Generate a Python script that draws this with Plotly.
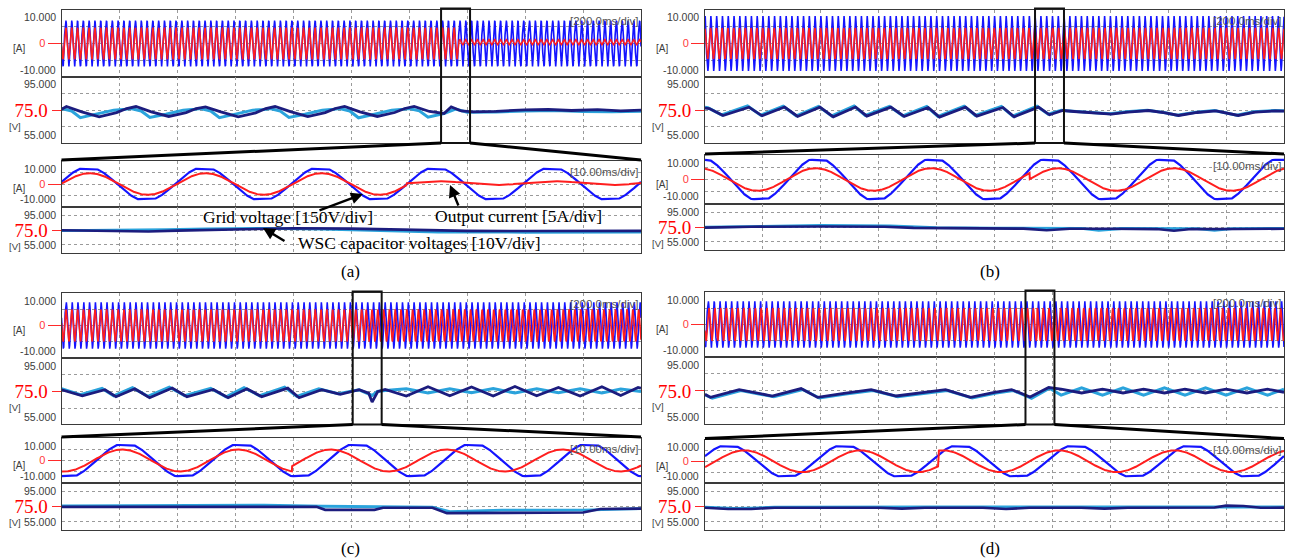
import numpy as np
import plotly.graph_objects as go

W, H = 1290, 558

# ------------------------------------------------------------------ data
PANELS = ["a", "b", "c", "d"]
PANEL_LABELS = ["(a)", "(b)", "(c)", "(d)"]
OVERVIEW_SPAN = 2000.0      # ms, 200 ms/div x 10
ZOOM_SPAN = 100.0           # ms, 10 ms/div x 10
GRID_FREQ = 50.0            # Hz
ZOOM_START = {"a": 1310, "b": 1140, "c": 1005, "d": 1107}   # ms in the overview record

# grid voltage (blue) : amplitude [div units], time of a crest inside zoom window [ms]
GRID_AMP = {"a": 6.6, "b": 8.0, "c": 6.9, "d": 6.9}
GRID_PEAK = {"a": 4.6, "b": -0.6, "c": 11.0, "d": 4.0}
GRID_FLAT = 1.1             # flat-topped grid voltage
# output current (red) : before / after the event, times relative to zoom window [ms]
CUR_AMP_BEFORE = {"a": 4.7, "b": 4.6, "c": 4.9, "d": 5.0}
CUR_PEAK_BEFORE = {"a": 4.9, "b": -0.9, "c": 10.5, "d": 6.8}
CUR_SWITCH = {"a": 59.5, "b": 56.1, "c": 39.8, "d": 40.3}
CUR_AMP_AFTER = {"a": 0.8, "b": 4.6, "c": 4.9, "d": 5.0}
CUR_PEAK_AFTER = {"a": 4.9, "b": 61.0, "c": 46.5, "d": 1.1}
CUR_OFFSET_AFTER = {"a": 0.4, "b": 0.0, "c": 0.0, "d": 0.0}

# WSC capacitor voltages, overview (ms, V)
CAP1_T = {
    "a": [0, 17, 70, 130, 190, 225, 257, 310, 370, 430, 465, 497, 550, 610, 670, 705, 737, 790, 850, 910,
          945, 977, 1030, 1090, 1150, 1185, 1217, 1270, 1320, 1345, 1380, 1420, 1500, 1600, 1680, 1760, 1850, 1930, 2000],
    "b": [0, 15, 62, 152, 197, 275, 320, 397, 443, 520, 559, 642, 688, 771, 810, 900, 939, 1029, 1068, 1152,
          1190, 1236, 1275, 1330, 1404, 1460, 1533, 1590, 1636, 1700, 1765, 1842, 1900, 1971, 2000],
    "c": [0, 72, 150, 188, 253, 304, 382, 433, 524, 575, 640, 691, 781, 820, 898, 962, 1027, 1060, 1072, 1091,
          1117, 1190, 1265, 1340, 1415, 1490, 1565, 1640, 1715, 1790, 1865, 1930, 1990, 2000],
    "d": [0, 19, 118, 232, 332, 389, 480, 574, 660, 750, 831, 917, 1000, 1059, 1123, 1187, 1230, 1301, 1373, 1444,
          1515, 1587, 1658, 1729, 1800, 1872, 1943, 2000],
}
CAP1_V = {
    "a": [75.5, 77.2, 74.0, 71.0, 73.5, 76.0, 77.2, 74.0, 71.2, 73.5, 76.0, 77.0, 74.0, 71.0, 73.4, 76.0, 77.2, 74.1, 71.1, 73.5,
          76.0, 77.3, 74.0, 71.2, 73.6, 76.0, 77.3, 74.2, 73.0, 77.0, 74.5, 74.0, 74.3, 75.2, 75.4, 74.8, 75.3, 74.6, 75.0],
    "b": [76.2, 76.0, 71.8, 76.8, 71.6, 76.9, 71.2, 76.8, 71.0, 76.9, 71.4, 76.8, 71.2, 76.6, 70.8, 76.8, 71.4, 76.6, 71.0, 76.8,
          72.2, 74.8, 74.2, 73.6, 72.6, 73.8, 74.8, 73.4, 71.8, 73.6, 74.6, 71.8, 73.8, 74.6, 74.4],
    "c": [76.0, 72.4, 76.0, 71.8, 76.6, 71.2, 77.0, 71.8, 76.2, 71.2, 76.6, 71.8, 77.0, 71.2, 76.0, 73.2, 76.0, 74.0, 68.6, 74.8,
          76.2, 72.2, 77.8, 72.4, 77.6, 72.2, 78.0, 72.4, 77.4, 72.2, 77.8, 72.6, 77.4, 77.0],
    "d": [73.0, 71.2, 75.8, 72.0, 76.4, 71.2, 73.6, 75.8, 72.0, 74.0, 75.8, 71.2, 74.2, 75.8, 71.4, 77.0, 76.0, 73.8, 76.0, 73.8,
          76.0, 73.8, 76.0, 73.8, 76.0, 73.8, 76.0, 74.2],
}
CAP2_T = {
    "a": [0, 35, 65, 120, 180, 220, 240, 275, 305, 360, 420, 460, 480, 515, 545, 600, 660, 700, 720, 755,
          785, 840, 900, 940, 960, 995, 1025, 1080, 1140, 1180, 1200, 1235, 1265, 1320, 1360, 1400, 1500, 1600, 1700, 1800,
          1900, 2000],
    "b": [0, 10, 57, 147, 192, 270, 315, 392, 438, 515, 554, 637, 683, 766, 805, 895, 934, 1024, 1063, 1147,
          1185, 1231, 1270, 1325, 1399, 1455, 1528, 1585, 1631, 1695, 1760, 1837, 1895, 1966, 2000],
    "c": [0, 65, 140, 180, 245, 298, 372, 425, 515, 568, 630, 684, 770, 812, 888, 955, 1027, 1072, 1090, 1117,
          1190, 1265, 1340, 1415, 1490, 1565, 1640, 1715, 1790, 1865, 1930, 2000],
    "d": [0, 25, 124, 238, 338, 395, 486, 580, 666, 756, 837, 923, 1006, 1065, 1128, 1190, 1230, 1301, 1373, 1444,
          1515, 1587, 1658, 1729, 1800, 1872, 1943, 2000],
}
CAP2_V = {
    "a": [76.0, 74.5, 70.5, 72.5, 75.0, 75.5, 76.0, 74.5, 70.6, 72.5, 75.0, 75.5, 76.0, 74.5, 70.5, 72.6, 75.0, 75.4, 76.0, 74.4,
          70.6, 72.5, 75.0, 75.5, 76.0, 74.5, 70.4, 72.5, 75.0, 75.5, 76.0, 74.6, 70.8, 73.0, 75.6, 73.8, 73.9, 74.5, 74.8, 74.2,
          74.0, 74.4],
    "b": [76.8, 76.5, 72.2, 77.5, 72.0, 77.4, 71.6, 77.3, 71.5, 77.5, 71.8, 77.3, 71.6, 77.2, 71.2, 77.4, 71.8, 77.2, 71.4, 77.4,
          72.6, 75.0, 74.4, 73.8, 72.8, 74.0, 75.0, 73.6, 72.0, 73.8, 74.8, 72.0, 74.0, 74.8, 74.6],
    "c": [76.6, 73.0, 76.8, 72.4, 77.2, 72.0, 77.6, 72.4, 76.8, 71.8, 77.2, 72.4, 77.6, 72.0, 76.6, 73.6, 76.0, 72.6, 75.0, 75.6,
          76.6, 74.0, 76.6, 74.2, 76.8, 74.0, 76.6, 74.2, 76.6, 74.0, 76.4, 75.0],
    "d": [72.6, 70.8, 75.2, 71.6, 75.8, 70.8, 73.2, 75.2, 71.6, 73.6, 75.2, 70.8, 73.8, 75.2, 70.6, 76.6, 72.5, 76.8, 72.5, 76.8,
          72.5, 76.8, 72.5, 76.8, 72.5, 76.8, 72.5, 76.0],
}
# WSC capacitor voltages, zoom window (ms, V)
CAP1Z_T = {
    "a": [0, 10, 15, 20, 30, 40, 50, 60, 70, 80, 90, 100],
    "b": [0, 8, 20, 31, 36, 40, 55, 59, 63, 70, 78, 81, 84, 92, 100],
    "c": [0, 44, 45.5, 54, 55.5, 64, 66.5, 76, 80, 90, 93, 100],
    "d": [0, 4, 8, 12, 30, 34, 38, 48, 52, 56, 65, 69, 73, 88, 90, 93, 96, 100],
}
CAP1Z_V = {
    "a": [74.8, 74.6, 74.0, 74.6, 75.4, 76.2, 75.9, 74.9, 74.4, 74.3, 74.2, 74.4],
    "b": [74.6, 75.2, 75.3, 75.2, 74.4, 74.2, 73.9, 72.8, 73.8, 73.8, 73.6, 72.5, 73.6, 73.7, 73.8],
    "c": [74.6, 74.6, 72.6, 72.6, 74.0, 74.0, 70.4, 70.4, 70.8, 70.8, 73.2, 73.4],
    "d": [74.0, 73.2, 73.2, 74.0, 74.0, 73.4, 74.0, 74.0, 73.2, 74.0, 74.0, 73.4, 74.0, 74.2, 75.4, 75.2, 74.0, 74.1],
}
CAP2Z_T = {
    "a": [0, 10, 18, 25, 35, 45, 55, 65, 80, 100],
    "b": [0, 10, 20, 32, 40, 50, 65, 68, 72, 85, 88, 91, 100],
    "c": [0, 20, 35, 45, 60, 64, 67, 76, 90, 94, 100],
    "d": [0, 5, 8, 12, 40, 60, 80, 100],
}
CAP2Z_V = {
    "a": [74.6, 74.8, 75.2, 75.8, 76.1, 75.6, 74.6, 73.6, 73.5, 73.6],
    "b": [74.9, 75.6, 76.0, 75.8, 74.6, 74.2, 74.0, 72.8, 74.0, 73.9, 72.8, 73.9, 74.0],
    "c": [75.2, 75.4, 75.8, 75.0, 74.6, 74.4, 71.4, 72.4, 72.4, 73.0, 73.4],
    "d": [74.4, 73.6, 73.8, 74.4, 74.5, 74.4, 74.6, 74.5],
}

CUR_EDGE_LABELS = ["10.000", "-10.000"]
CAP_EDGE_LABELS = ["95.000", "55.000"]
CUR_TICK = ([0], ["0"])
CAP_TICK = ([75], ["75.0"])
UNIT_LABELS = ["[A]", "[V]"]
SCALE_LABELS = ["[200.0ms/div]", "[10.00ms/div]"]
NOTE_TEXTS = ["Grid voltage [150V/div]", "Output current [5A/div]", "WSC capacitor voltages [10V/div]"]

# ------------------------------------------------------------------ styles / layout geometry (px)
C_BLUE, C_RED = "#1414ff", "#ff1e1e"
C_NAVY, C_LBLUE = "#1c1c7e", "#2aa3dc"
GRID_C = "#9a9a9a"
FRAME_C = "#3a3a3a"
LABEL_C = "#3c3c3c"
SERIF = "Liberation Serif, Times New Roman, serif"
SANS = "Liberation Sans, Arial, sans-serif"

GEOM = {
    "a": dict(x=(61.5, 641.0), ov=(10.0, 77.0, 142.5), zm=(161.0, 207.0, 253.0), lab=(350, 271)),
    "b": dict(x=(705.0, 1284.0), ov=(10.0, 77.0, 142.5), zm=(155.0, 204.0, 250.0), lab=(990, 271)),
    "c": dict(x=(61.5, 641.0), ov=(293.0, 358.0, 424.0), zm=(438.0, 483.0, 529.5), lab=(350, 548)),
    "d": dict(x=(705.0, 1284.0), ov=(292.0, 357.0, 424.0), zm=(439.5, 483.0, 529.5), lab=(990, 548)),
}
CUR_RANGE = [-10.0, 10.0]
CAP_RANGE_OV = [55.5, 95.0]
CAP_RANGE_ZM = [59.5, 90.5]


def px(xp):
    return xp / W


def py(yp):
    return 1 - yp / H


def grid_wave(t_rel, k):
    ph = 2 * np.pi * GRID_FREQ * (t_rel - GRID_PEAK[k]) / 1000.0
    return GRID_AMP[k] * np.clip(GRID_FLAT * np.cos(ph), -1, 1)


def current_wave(t_rel, k):
    w = 2 * np.pi * GRID_FREQ / 1000.0
    before = CUR_AMP_BEFORE[k] * np.cos(w * (t_rel - CUR_PEAK_BEFORE[k]))
    after = CUR_OFFSET_AFTER[k] + CUR_AMP_AFTER[k] * np.cos(w * (t_rel - CUR_PEAK_AFTER[k]))
    return np.where(t_rel < CUR_SWITCH[k], before, after)


def nm(n, kind):
    return kind if n == 1 else f"{kind}{n}"


fig = go.Figure()
layout_axes = {}
annotations = []
shapes = []


def add_line(n, x, y, color, width):
    fig.add_trace(go.Scatter(x=x, y=y, mode="lines", line=dict(color=color, width=width),
                             xaxis=nm(n, "x"), yaxis=nm(n, "y"), hoverinfo="skip", showlegend=False))


def txt(x, y, s, size=11, color=LABEL_C, family=SANS, xanchor="center", yanchor="middle", pad=1):
    annotations.append(dict(x=px(x), y=py(y), xref="paper", yref="paper", text=s, showarrow=False,
                            font=dict(size=size, color=color, family=family), borderpad=pad,
                            xanchor=xanchor, yanchor=yanchor))


t_ov = np.arange(0, OVERVIEW_SPAN + 0.001, 0.25)
t_zm = np.arange(0, ZOOM_SPAN + 0.001, 0.05)

for p, k in enumerate(PANELS):
    g = GEOM[k]
    x0, x1 = g["x"]
    rows = [(g["ov"][0], g["ov"][1]), (g["ov"][1], g["ov"][2]),
            (g["zm"][0], g["zm"][1]), (g["zm"][1], g["zm"][2])]
    t0 = ZOOM_START[k]
    for r, (top, bot) in enumerate(rows):
        n = p * 4 + r + 1
        is_cur = r in (0, 2)
        is_ov = r < 2
        span = OVERVIEW_SPAN if is_ov else ZOOM_SPAN
        layout_axes["xaxis" + ("" if n == 1 else str(n))] = dict(
            domain=[px(x0), px(x1)], anchor=nm(n, "y"), range=[0, span],
            showticklabels=False, ticks="", showgrid=True, gridcolor=GRID_C, griddash="dot", gridwidth=1,
            tickmode="linear", tick0=0, dtick=span / 10, zeroline=False,
            showline=True, mirror=True, linecolor=FRAME_C, linewidth=1, fixedrange=True)
        if is_cur:
            yr = CUR_RANGE
            tv, tt = CUR_TICK
            minor_vals = [-5, 0, 5]
            tf = dict(size=11, color="#ff3a3a", family=SANS)
            tl = 13
        else:
            yr = CAP_RANGE_OV if is_ov else CAP_RANGE_ZM
            tv, tt = CAP_TICK
            minor_vals = [65, 75, 85]
            tf = dict(size=19, color="#ff0000", family=SERIF)
            tl = 9
        layout_axes["yaxis" + ("" if n == 1 else str(n))] = dict(
            domain=[py(bot), py(top)], anchor=nm(n, "x"), range=yr,
            tickmode="array", tickvals=tv, ticktext=tt, ticks="outside", ticklen=tl,
            tickcolor="#ff2a2a", tickwidth=1, tickfont=tf, showgrid=False, zeroline=False,
            minor=dict(tickmode="array", tickvals=minor_vals, showgrid=True, gridcolor=GRID_C,
                       griddash="dot", gridwidth=1, ticks=""),
            showline=True, mirror=True, linecolor=FRAME_C, linewidth=1, fixedrange=True)

        # edge labels and unit labels
        labs = CUR_EDGE_LABELS if is_cur else CAP_EDGE_LABELS
        txt(x0 - 5, top + 0.5, labs[0], size=10.5, xanchor="right", yanchor="top", pad=0)
        txt(x0 - 5, bot - 0.5, labs[1], size=10.5, xanchor="right", yanchor="bottom", pad=0)
        ref_val = tv[0]
        y_ref = top + (yr[1] - ref_val) / (yr[1] - yr[0]) * (bot - top)
        if is_cur:
            txt(x0 - 43, y_ref + 5, UNIT_LABELS[0], size=10, pad=0)
        else:
            txt(x0 - 47, y_ref + 16, UNIT_LABELS[1], size=9.5, pad=0)
        if is_cur:
            txt(x1 - 2, top + 10.5, SCALE_LABELS[0] if is_ov else SCALE_LABELS[1], size=11.5,
                color="#555555", xanchor="right", pad=0)

        # traces
        if r == 0:
            add_line(n, t_ov, grid_wave(t_ov - t0, k), C_BLUE, 1.6)
            add_line(n, t_ov, current_wave(t_ov - t0, k), C_RED, 1.6)
        elif r == 1:
            add_line(n, CAP2_T[k], CAP2_V[k], C_LBLUE, 3.0)
            add_line(n, CAP1_T[k], CAP1_V[k], C_NAVY, 2.8)
        elif r == 2:
            add_line(n, t_zm, grid_wave(t_zm, k), C_BLUE, 2.2)
            add_line(n, t_zm, current_wave(t_zm, k), C_RED, 2.0)
        else:
            add_line(n, CAP2Z_T[k], CAP2Z_V[k], C_LBLUE, 2.8)
            add_line(n, CAP1Z_T[k], CAP1Z_V[k], C_NAVY, 2.6)

    # zoom box and connectors
    n_ov = p * 4 + 1
    ov_top, ov_bot = g["ov"][0], g["ov"][2]
    zm_top = g["zm"][0]
    shapes.append(dict(type="rect", xref=nm(n_ov, "x"), yref="paper", x0=t0, x1=t0 + ZOOM_SPAN,
                       y0=py(ov_bot + 0.5), y1=py(ov_top - 1.5), line=dict(color="#111111", width=2)))
    bl = x0 + t0 / OVERVIEW_SPAN * (x1 - x0)
    br = x0 + (t0 + ZOOM_SPAN) / OVERVIEW_SPAN * (x1 - x0)
    for xa, xb in ((bl, x0), (br, x1)):
        shapes.append(dict(type="line", xref="paper", yref="paper", x0=px(xa), y0=py(ov_bot + 0.5),
                           x1=px(xb), y1=py(zm_top - 1), line=dict(color="#000000", width=3)))

    # panel caption
    txt(g["lab"][0], g["lab"][1], PANEL_LABELS[p], size=17, color="#000000", family=SERIF)

# annotations of panel (a)
txt(288, 217, NOTE_TEXTS[0], size=17.5, color="#000000", family=SERIF)
txt(518, 216, NOTE_TEXTS[1], size=17.5, color="#000000", family=SERIF)
txt(419, 243, NOTE_TEXTS[2], size=17.5, color="#000000", family=SERIF)
for hx, hy, tx, ty in ((363, 194, 318, 211), (450, 185, 459, 207), (263, 228, 286, 242)):
    annotations.append(dict(x=px(hx), y=py(hy), xref="paper", yref="paper", text="", showarrow=True,
                            ax=tx - hx, ay=ty - hy, arrowhead=2, arrowsize=1.0, arrowwidth=2.4,
                            arrowcolor="#000000"))

fig.update_layout(
    width=W, height=H, autosize=False,
    margin=dict(l=0, r=0, t=0, b=0),
    paper_bgcolor="white", plot_bgcolor="white",
    showlegend=False, annotations=annotations, shapes=shapes,
    **layout_axes,
)
fig.write_html("out.html", include_plotlyjs=True, full_html=True,
               config={"displayModeBar": False, "staticPlot": True})
